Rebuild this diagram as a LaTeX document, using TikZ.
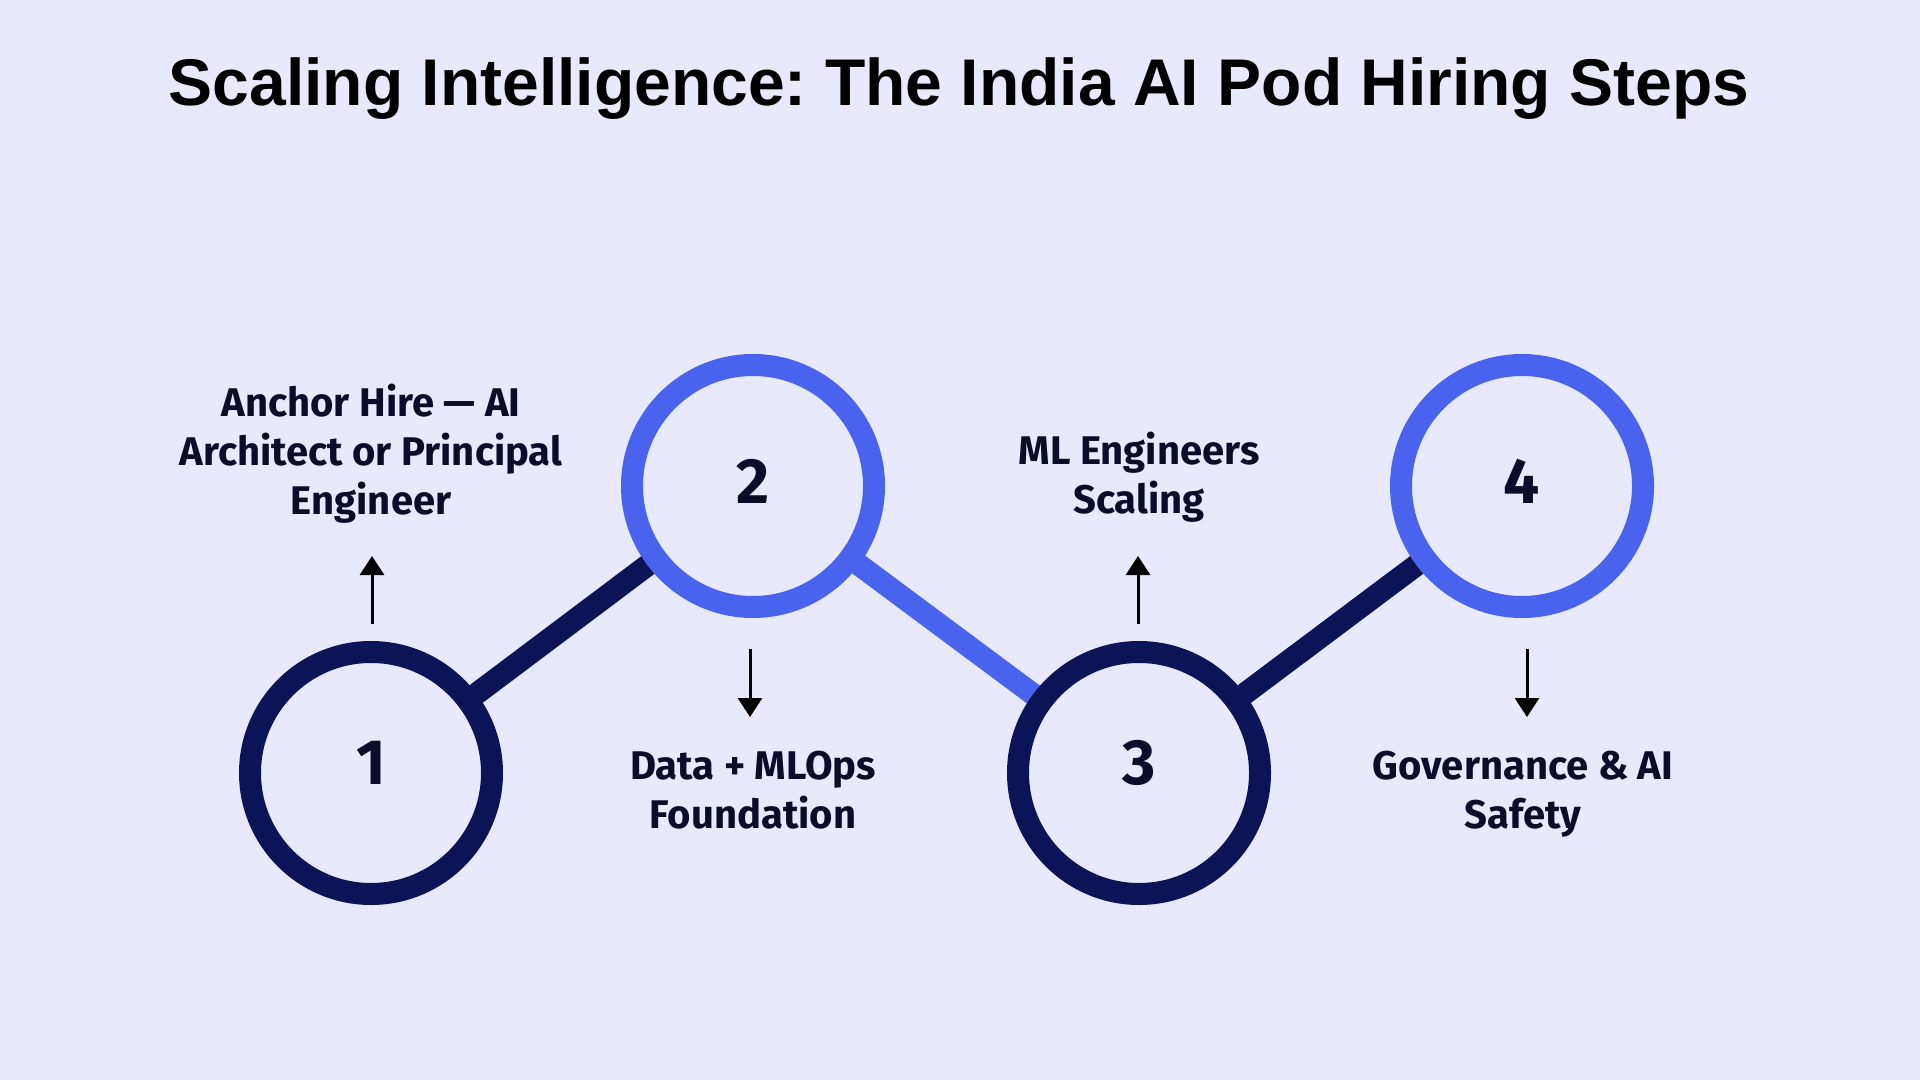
\documentclass[tikz,border=0pt]{standalone}
\usepackage{fontspec}
\setmainfont{Liberation Sans}
\newfontfamily\labfont{Fira Sans}
\usetikzlibrary{arrows.meta,backgrounds}
\frenchspacing
\definecolor{bgc}{HTML}{E8E9FD}
\definecolor{navy}{HTML}{0B1457}
\definecolor{bluec}{HTML}{4A63EE}
\definecolor{txt}{HTML}{0A0D2A}
\tikzset{
  stepcirc/.style={circle,draw=#1,line width=11pt,fill=bgc,minimum size=121pt,inner sep=0pt},
  link/.style={line width=11pt,draw=#1},
  numtext/.style={font=\labfont\bfseries\fontsize{32}{32}\selectfont,text=txt,anchor=base,inner sep=0pt},
  labtext/.style={font=\labfont\bfseries\fontsize{20}{24.5}\selectfont,text=txt,align=center,inner sep=0pt},
  pointer/.style={line width=1.5pt,draw=black,-{Triangle[width=12pt,length=9.5pt]}}
}
\begin{document}
\begin{tikzpicture}[x=0.5pt,y=-0.5pt]
\useasboundingbox (0,0) rectangle (1920,1080);
\node[font=\bfseries\fontsize{33}{40}\selectfont,anchor=base,inner sep=0pt] (title) at (959,106) {Scaling Intelligence: The India AI Pod Hiring Steps};
\node[stepcirc=navy] (c1) at (371,773) {};
\node[stepcirc=bluec] (c2) at (753,486) {};
\node[stepcirc=navy] (c3) at (1139,773) {};
\node[stepcirc=bluec] (c4) at (1522,486) {};
\begin{scope}[on background layer]
\fill[bgc] (0,0) rectangle (1920,1080);
\draw[link=navy] (c1.center) -- (c2.center);
\draw[link=bluec] (c2.center) -- (c3.center);
\draw[link=navy] (c3.center) -- (c4.center);
\end{scope}
\node[numtext] (n1) at (371,784) {1};
\node[numtext] (n2) at (753,503) {2};
\node[numtext] (n3) at (1139,784) {3};
\node[numtext] (n4) at (1522,503) {4};
\node[labtext] (l1) at (371,453.5) {Anchor Hire — AI\\Architect or Principal\\Engineer};
\node[labtext] (l2) at (753,790.5) {Data + MLOps\\Foundation};
\node[labtext] (l3) at (1139,477.5) {ML Engineers\\Scaling};
\node[labtext] (l4) at (1523,794) {Governance \& AI\\Safety};
\coordinate (a1s) at (372,624); \coordinate (a1e) at (372,556);
\coordinate (a2s) at (750,649); \coordinate (a2e) at (750,717);
\coordinate (a3s) at (1138,624); \coordinate (a3e) at (1138,556);
\coordinate (a4s) at (1527,649); \coordinate (a4e) at (1527,717);
\draw[pointer] (a1s) -- (a1e);
\draw[pointer] (a2s) -- (a2e);
\draw[pointer] (a3s) -- (a3e);
\draw[pointer] (a4s) -- (a4e);
\end{tikzpicture}
\end{document}
